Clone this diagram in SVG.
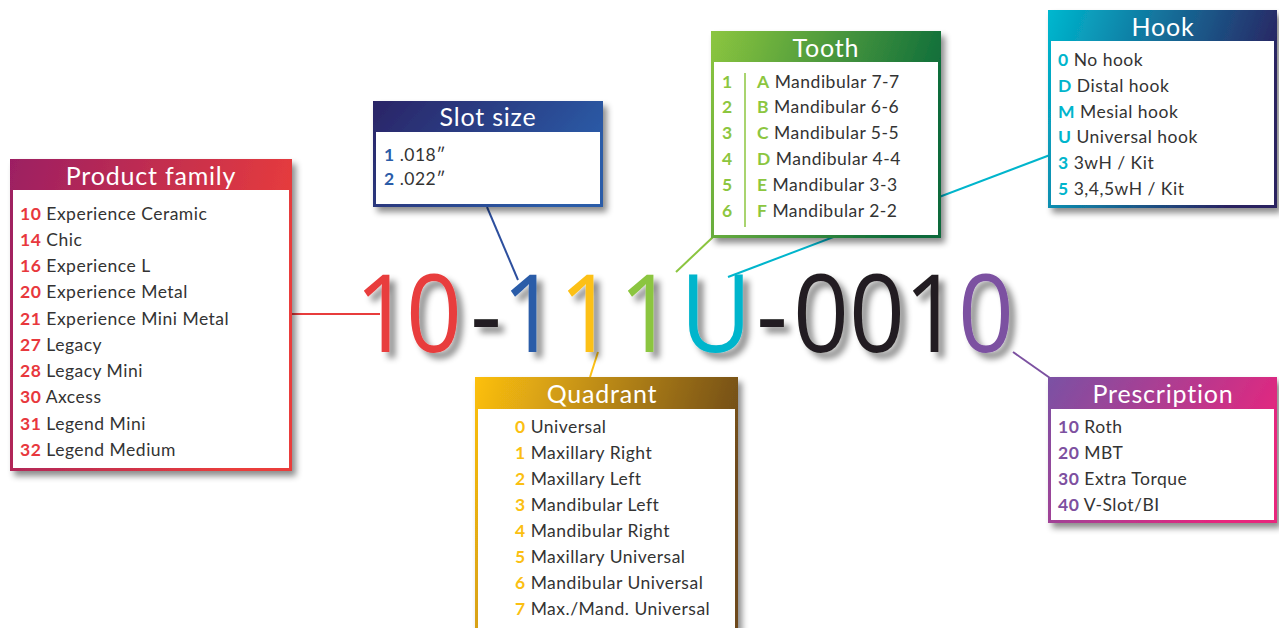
<svg xmlns="http://www.w3.org/2000/svg" width="1279" height="628" viewBox="0 0 1279 628">
<defs>
<filter id="sh" x="-10%" y="-10%" width="130%" height="130%"><feDropShadow dx="4" dy="5" stdDeviation="3" flood-color="#000" flood-opacity="0.45"/></filter>
<filter id="tsh" x="-20%" y="-20%" width="150%" height="150%"><feDropShadow dx="6" dy="6" stdDeviation="3" flood-color="#000" flood-opacity="0.45"/></filter>
<linearGradient id="gPF" x1="0" y1="0" x2="1" y2="0.3"><stop offset="0" stop-color="#9c1f63"/><stop offset="1" stop-color="#ea3d3b"/></linearGradient>
<linearGradient id="gSS" x1="0" y1="0" x2="1" y2="0.4"><stop offset="0" stop-color="#2b2466"/><stop offset="1" stop-color="#2a5ca8"/></linearGradient>
<linearGradient id="gTO" x1="0" y1="0" x2="1" y2="0.3"><stop offset="0" stop-color="#8cc63f"/><stop offset="1" stop-color="#0b6b3a"/></linearGradient>
<linearGradient id="gHO" x1="0" y1="0" x2="1" y2="0.3"><stop offset="0" stop-color="#00b8cf"/><stop offset="1" stop-color="#2a2160"/></linearGradient>
<linearGradient id="gQU" x1="0" y1="0" x2="1" y2="0.3"><stop offset="0" stop-color="#fdc010"/><stop offset="1" stop-color="#6e4a1a"/></linearGradient>
<linearGradient id="gPR" x1="0" y1="0" x2="1" y2="0.4"><stop offset="0" stop-color="#7a52a4"/><stop offset="1" stop-color="#e8257d"/></linearGradient>
<style>
.t{font-family:Lato,"Noto Sans",sans-serif;font-size:25px;fill:#fff;text-anchor:middle;letter-spacing:0.8px}
.i{font-family:Lato,"Noto Sans",sans-serif;font-size:17.5px;fill:#333;letter-spacing:0.5px}
.n{font-weight:bold}
.big{font-family:"Open Sans","Noto Sans",sans-serif;font-size:98px;text-anchor:middle}
.c{fill:none;stroke-width:2}
</style>
</defs>
<rect width="1279" height="628" fill="#fff"/>

<g id="connectors">
<line class="c" x1="292" y1="314" x2="380" y2="314" stroke="#e83c3c"/>
<line class="c" x1="487" y1="207" x2="518" y2="280" stroke="#2d4f9e"/>
<line class="c" x1="713" y1="237" x2="676" y2="272" stroke="#8bc53f"/>
<line class="c" x1="1050" y1="155" x2="728" y2="277" stroke="#00b5cc"/>
<line class="c" x1="598" y1="352" x2="590" y2="377" stroke="#fcc015"/>
<line class="c" x1="1013" y1="352" x2="1050" y2="378" stroke="#7c51a1"/>
</g>

<g id="code" filter="url(#tsh)">
<g transform="translate(0,352) scale(1,1.1) translate(0,-352)">
<text class="big" y="352"><tspan x="383" fill="#e83c3c">1</tspan><tspan x="434" fill="#e83c3c">0</tspan><tspan x="486" fill="#231f20">-</tspan><tspan x="530" fill="#2a5ca8">1</tspan><tspan x="587" fill="#fcc015">1</tspan><tspan x="647" fill="#8bc53f">1</tspan><tspan x="716" fill="#00b5cc">U</tspan><tspan x="772" fill="#231f20">-</tspan><tspan x="821" fill="#231f20">0</tspan><tspan x="877" fill="#231f20">0</tspan><tspan x="932" fill="#231f20">1</tspan><tspan x="986" fill="#7c51a1">0</tspan></text>
</g>
</g>

<g id="product-family">
<rect x="10" y="159" width="282" height="312" fill="url(#gPF)" filter="url(#sh)"/>
<rect x="13" y="190" width="276" height="278" fill="#fff"/>
<text class="t" x="151" y="185">Product family</text>
<g class="i">
<text x="20" y="220"><tspan class="n" fill="#e8383d">10</tspan> Experience Ceramic</text>
<text x="20" y="246"><tspan class="n" fill="#e8383d">14</tspan> Chic</text>
<text x="20" y="272"><tspan class="n" fill="#e8383d">16</tspan> Experience L</text>
<text x="20" y="298"><tspan class="n" fill="#e8383d">20</tspan> Experience Metal</text>
<text x="20" y="325"><tspan class="n" fill="#e8383d">21</tspan> Experience Mini Metal</text>
<text x="20" y="351"><tspan class="n" fill="#e8383d">27</tspan> Legacy</text>
<text x="20" y="377"><tspan class="n" fill="#e8383d">28</tspan> Legacy Mini</text>
<text x="20" y="403"><tspan class="n" fill="#e8383d">30</tspan> Axcess</text>
<text x="20" y="430"><tspan class="n" fill="#e8383d">31</tspan> Legend Mini</text>
<text x="20" y="456"><tspan class="n" fill="#e8383d">32</tspan> Legend Medium</text>
</g>
</g>

<g id="slot-size">
<rect x="373" y="101" width="230" height="106" fill="url(#gSS)" filter="url(#sh)"/>
<rect x="376" y="132" width="224" height="72" fill="#fff"/>
<text class="t" x="488" y="126">Slot size</text>
<g class="i">
<text x="384" y="161"><tspan class="n" fill="#2a5ca8">1</tspan> .018″</text>
<text x="384" y="185"><tspan class="n" fill="#2a5ca8">2</tspan> .022″</text>
</g>
</g>

<g id="tooth">
<rect x="711" y="31" width="230" height="207" fill="url(#gTO)" filter="url(#sh)"/>
<rect x="714" y="62" width="224" height="173" fill="#fff"/>
<text class="t" x="826" y="57">Tooth</text>
<line x1="745" y1="73" x2="745" y2="227" stroke="#8cc63f" stroke-width="1.5"/>
<g class="i">
<text x="722" y="88" class="n" fill="#8cc63f">1</text>
<text x="722" y="113" class="n" fill="#8cc63f">2</text>
<text x="722" y="139" class="n" fill="#8cc63f">3</text>
<text x="722" y="165" class="n" fill="#8cc63f">4</text>
<text x="722" y="191" class="n" fill="#8cc63f">5</text>
<text x="722" y="217" class="n" fill="#8cc63f">6</text>
<text x="757" y="88"><tspan class="n" fill="#8cc63f">A</tspan> Mandibular 7-7</text>
<text x="757" y="113"><tspan class="n" fill="#8cc63f">B</tspan> Mandibular 6-6</text>
<text x="757" y="139"><tspan class="n" fill="#8cc63f">C</tspan> Mandibular 5-5</text>
<text x="757" y="165"><tspan class="n" fill="#8cc63f">D</tspan> Mandibular 4-4</text>
<text x="757" y="191"><tspan class="n" fill="#8cc63f">E</tspan> Mandibular 3-3</text>
<text x="757" y="217"><tspan class="n" fill="#8cc63f">F</tspan> Mandibular 2-2</text>
</g>
</g>

<g id="hook">
<rect x="1048" y="10" width="229" height="198" fill="url(#gHO)" filter="url(#sh)"/>
<rect x="1051" y="41" width="223" height="164" fill="#fff"/>
<text class="t" x="1163" y="36">Hook</text>
<g class="i">
<text x="1058" y="66"><tspan class="n" fill="#00b5cc">0</tspan> No hook</text>
<text x="1058" y="92"><tspan class="n" fill="#00b5cc">D</tspan> Distal hook</text>
<text x="1058" y="118"><tspan class="n" fill="#00b5cc">M</tspan> Mesial hook</text>
<text x="1058" y="143"><tspan class="n" fill="#00b5cc">U</tspan> Universal hook</text>
<text x="1058" y="169"><tspan class="n" fill="#00b5cc">3</tspan> 3wH / Kit</text>
<text x="1058" y="195"><tspan class="n" fill="#00b5cc">5</tspan> 3,4,5wH / Kit</text>
</g>
</g>

<g id="quadrant">
<rect x="475" y="377" width="263" height="270" fill="url(#gQU)" filter="url(#sh)"/>
<rect x="478" y="409" width="257" height="240" fill="#fff"/>
<text class="t" x="602" y="403">Quadrant</text>
<g class="i">
<text x="515" y="433"><tspan class="n" fill="#fbbf12">0</tspan> Universal</text>
<text x="515" y="459"><tspan class="n" fill="#fbbf12">1</tspan> Maxillary Right</text>
<text x="515" y="485"><tspan class="n" fill="#fbbf12">2</tspan> Maxillary Left</text>
<text x="515" y="511"><tspan class="n" fill="#fbbf12">3</tspan> Mandibular Left</text>
<text x="515" y="537"><tspan class="n" fill="#fbbf12">4</tspan> Mandibular Right</text>
<text x="515" y="563"><tspan class="n" fill="#fbbf12">5</tspan> Maxillary Universal</text>
<text x="515" y="589"><tspan class="n" fill="#fbbf12">6</tspan> Mandibular Universal</text>
<text x="515" y="615"><tspan class="n" fill="#fbbf12">7</tspan> Max./Mand. Universal</text>
</g>
</g>

<g id="prescription">
<rect x="1048" y="377" width="229" height="146" fill="url(#gPR)" filter="url(#sh)"/>
<rect x="1051" y="409" width="223" height="111" fill="#fff"/>
<text class="t" x="1163" y="403">Prescription</text>
<g class="i">
<text x="1058" y="433"><tspan class="n" fill="#7d50a0">10</tspan> Roth</text>
<text x="1058" y="459"><tspan class="n" fill="#7d50a0">20</tspan> MBT</text>
<text x="1058" y="485"><tspan class="n" fill="#7d50a0">30</tspan> Extra Torque</text>
<text x="1058" y="511"><tspan class="n" fill="#7d50a0">40</tspan> V-Slot/BI</text>
</g>
</g>
</svg>
